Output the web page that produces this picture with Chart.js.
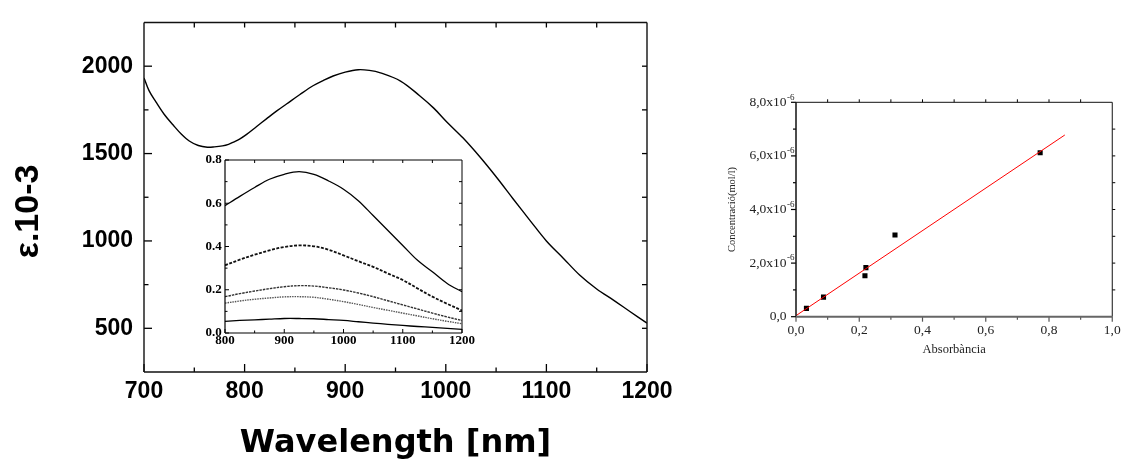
<!DOCTYPE html>
<html><head><meta charset="utf-8">
<script src="https://cdn.jsdelivr.net/npm/chart.js@4.4.0/dist/chart.umd.min.js"></script>
<style>
html,body{margin:0;padding:0;background:#fff;width:1128px;height:460px;overflow:hidden;}
canvas{position:absolute;}
#main{left:0;top:0;}
#inset{left:190px;top:150px;}
#cal{left:700px;top:80px;}
</style></head><body>
<canvas id="main" width="700" height="460"></canvas>
<canvas id="inset" width="290" height="200"></canvas>
<canvas id="cal" width="428" height="300"></canvas>
<script>
// ---------- main spectrum ----------
const mainWl  = [700,705,712,720,729,737,745,754,763,770,778,784,789,795,802,812,822,832,842,855,868,878,888,900,913,924,935,955,974,988,1001,1017,1034,1051,1067,1084,1100,1117,1133,1150,1167,1183,1200];
const mainEps = [1933,1860,1794,1725,1663,1612,1572,1546,1536,1538,1544,1553,1566,1583,1610,1655,1700,1744,1785,1838,1888,1918,1944,1966,1980,1976,1962,1915,1831,1760,1681,1590,1480,1360,1240,1115,1000,900,805,725,660,596,530];
const mainXTicks = [700,800,900,1000,1100,1200];
const mainYTicks = [500,1000,1500,2000];

// ---------- inset (absorbance spectra) ----------
const insetWl = [800,825,850,875,900,925,950,975,1000,1025,1050,1075,1100,1125,1150,1175,1200];
const insetA1 = [.589,.632,.673,.711,.734,.746,.734,.703,.665,.612,.543,.474,.405,.336,.283,.229,.191];
const insetA2 = [.313,.339,.362,.382,.398,.405,.401,.385,.359,.332,.306,.275,.245,.206,.168,.135,.104];
const insetA3 = [.168,.182,.194,.205,.214,.219,.217,.209,.199,.185,.168,.149,.130,.111,.092,.074,.058];
const insetA4 = [.138,.148,.156,.162,.167,.168,.165,.156,.145,.132,.118,.105,.092,.079,.066,.054,.043];
const insetA5 = [.054,.058,.061,.064,.067,.067,.066,.062,.058,.052,.046,.040,.035,.030,.026,.021,.017];
const insetXTicks = [800,900,1000,1100,1200];
const insetYTicks = [0,0.2,0.4,0.6,0.8];

// ---------- calibration ----------
const absorb = [0.033,0.087,0.218,0.221,0.313,0.772];
const conc   = [0.31e-6,0.73e-6,1.53e-6,1.83e-6,3.05e-6,6.12e-6];
const fitX = [0,0.85];
const fitY = [0.04e-6,6.78e-6];
const calXTicks = [0,0.2,0.4,0.6,0.8,1.0];
const calYTicks = [0,2e-6,4e-6,6e-6,8e-6];

function framePlugin(spec){
  return {
    id:'frame',
    beforeDraw(chart){
      if(!spec.fill) return;
      const a=chart.chartArea, ctx=chart.ctx;
      ctx.save(); ctx.fillStyle=spec.fill;
      ctx.fillRect(a.left,a.top,a.right-a.left,a.bottom-a.top); ctx.restore();
    },
    afterDraw(chart){
      const ctx=chart.ctx, a=chart.chartArea, xs=chart.scales.x, ys=chart.scales.y;
      ctx.save();
      (spec.ticks||[]).forEach(t=>{
        ctx.strokeStyle=t.color||'#000'; ctx.lineWidth=t.width||1;
        t.values.forEach(v=>{
          ctx.beginPath();
          if(t.side==='bottom'||t.side==='top'){
            const px=xs.getPixelForValue(v);
            const b=t.side==='bottom'?a.bottom:a.top;
            const s=(t.side==='bottom'?-1:1)*t.dir;
            ctx.moveTo(px,b); ctx.lineTo(px,b+s*t.len);
          } else {
            const py=ys.getPixelForValue(v);
            const b=t.side==='left'?a.left:a.right;
            const s=(t.side==='left'?1:-1)*t.dir;
            ctx.moveTo(b,py); ctx.lineTo(b+s*t.len,py);
          }
          ctx.stroke();
        });
      });
      (spec.edges||[]).forEach(e=>{
        ctx.strokeStyle=e.color; ctx.lineWidth=e.width; ctx.beginPath();
        if(e.side==='left'){ctx.moveTo(a.left,a.top);ctx.lineTo(a.left,a.bottom);}
        if(e.side==='right'){ctx.moveTo(a.right,a.top);ctx.lineTo(a.right,a.bottom);}
        if(e.side==='top'){ctx.moveTo(a.left,a.top);ctx.lineTo(a.right,a.top);}
        if(e.side==='bottom'){ctx.moveTo(a.left,a.bottom);ctx.lineTo(a.right,a.bottom);}
        ctx.stroke();
      });
      if(spec.after) spec.after(chart);
      ctx.restore();
    }
  };
}

const base = {responsive:false, animation:false, events:[], plugins:{legend:{display:false},tooltip:{enabled:false}}};

// ----- main chart -----
const sansB = n => ({family:'"Liberation Sans", Arial, sans-serif', weight:'bold', size:n, lineHeight:1});
new Chart(document.getElementById('main'),{
  type:'line',
  data:{datasets:[{data:mainWl.map((x,i)=>({x,y:mainEps[i]})),borderColor:'#000',borderWidth:1.4,pointRadius:0,tension:0.35,fill:false}]},
  options:Object.assign({},base,{
    layout:{padding:{top:15,right:53,left:0,bottom:0}},
    scales:{
      x:{type:'linear',min:700,max:1200,
        afterBuildTicks:s=>{s.ticks=mainXTicks.map(v=>({value:v}));},
        afterFit:s=>{s.height=88;},
        grid:{display:false,drawTicks:false},border:{display:false},
        ticks:{font:sansB(23),color:'#000',padding:8,maxRotation:0,autoSkip:false,callback:v=>String(v)},
        title:{display:true,text:'Wavelength [nm]',color:'#000',padding:{top:0,bottom:0},
          font:{family:'"DejaVu Sans", sans-serif',weight:'bold',size:32,lineHeight:1}}},
      y:{type:'linear',min:250,max:2250,
        afterBuildTicks:s=>{s.ticks=mainYTicks.map(v=>({value:v}));},
        afterFit:s=>{s.width=144;},
        grid:{display:false,drawTicks:false},border:{display:false},
        ticks:{font:sansB(23),color:'#000',padding:11,autoSkip:false,callback:v=>String(v)},
        title:{display:true,text:'ε.10-3\u00a0\u00a0\u00a0',color:'#000',padding:{top:8,bottom:0},
          font:{family:'"Liberation Sans", Arial, sans-serif',weight:'bold',size:34,lineHeight:1.2}}}
    }
  }),
  plugins:[framePlugin({
    ticks:[
      {side:'bottom',dir:1,len:8,width:1.3,values:mainXTicks},
      {side:'bottom',dir:1,len:4.5,width:1.3,values:[750,850,950,1050,1150]},
      {side:'top',dir:1,len:5,width:1.3,values:[750,800,850,900,950,1000,1050,1100,1150]},
      {side:'left',dir:1,len:8,width:1.3,values:mainYTicks},
      {side:'left',dir:1,len:4.5,width:1.3,values:[750,1250,1750]},
      {side:'right',dir:1,len:5,width:1.3,values:[500,750,1000,1250,1500,1750,2000]}
    ],
    edges:[{side:'left',color:'#111',width:1.4},{side:'right',color:'#111',width:1.4},{side:'top',color:'#111',width:1.4},{side:'bottom',color:'#111',width:1.4}]
  })]
});

// ----- inset chart -----
const serifB = {family:'"Liberation Serif", "Times New Roman", serif',weight:'bold',size:13,lineHeight:1};
const ds = (d,dash,w,c)=>({data:insetWl.map((x,i)=>({x,y:d[i]})),borderColor:c,borderWidth:w,borderDash:dash,pointRadius:0,tension:0.35,fill:false});
new Chart(document.getElementById('inset'),{
  type:'line',
  data:{datasets:[
    ds(insetA1,[],1.3,'#000'),
    ds(insetA2,[3,1.5],1.8,'#111'),
    ds(insetA3,[2.5,1],1.4,'#333'),
    ds(insetA4,[1.5,1],1.4,'#555'),
    ds(insetA5,[],1.3,'#000')
  ]},
  options:Object.assign({},base,{
    layout:{padding:{top:10,right:18,left:0,bottom:0}},
    scales:{
      x:{type:'linear',min:800,max:1200,
        afterBuildTicks:s=>{s.ticks=insetXTicks.map(v=>({value:v}));},
        afterFit:s=>{s.height=17;},
        grid:{display:false,drawTicks:false},border:{display:false},
        ticks:{font:serifB,color:'#000',padding:1.2,maxRotation:0,autoSkip:false,callback:v=>String(v)}},
      y:{type:'linear',min:0,max:0.8,
        afterBuildTicks:s=>{s.ticks=insetYTicks.map(v=>({value:v}));},
        afterFit:s=>{s.width=35;},
        grid:{display:false,drawTicks:false},border:{display:false},
        ticks:{font:serifB,color:'#000',padding:3.3,autoSkip:false,callback:v=>v.toFixed(1)}}
    }
  }),
  plugins:[framePlugin({
    fill:'#fff',
    ticks:[
      {side:'bottom',dir:1,len:4,values:insetXTicks},
      {side:'bottom',dir:1,len:2.5,values:[850,950,1050,1150]},
      {side:'top',dir:1,len:3,values:[850,900,950,1000,1050,1100,1150]},
      {side:'left',dir:1,len:4,values:insetYTicks},
      {side:'left',dir:1,len:2.5,values:[0.1,0.3,0.5,0.7]},
      {side:'right',dir:1,len:3,values:[0.1,0.2,0.3,0.4,0.5,0.6,0.7]}
    ],
    edges:[{side:'left',color:'#000',width:1.2},{side:'right',color:'#000',width:1},{side:'top',color:'#000',width:1},{side:'bottom',color:'#000',width:1.2}]
  })]
});

// ----- calibration chart -----
const serif = n => ({family:'"Liberation Serif", "Times New Roman", serif',size:n,lineHeight:1});
const fmtC = v => v.toFixed(1).replace('.',',');
new Chart(document.getElementById('cal'),{
  type:'scatter',
  data:{datasets:[
    {type:'line',data:fitX.map((x,i)=>({x,y:fitY[i]})),borderColor:'#ff0000',borderWidth:1,pointRadius:0,fill:false},
    {data:absorb.map((x,i)=>({x,y:conc[i]})),pointStyle:'rect',pointRadius:3.6,backgroundColor:'#000',borderColor:'#000',borderWidth:0}
  ]},
  options:Object.assign({},base,{
    layout:{padding:{top:22.3,right:8,left:0,bottom:24}},
    scales:{
      x:{type:'linear',min:0,max:1,
        afterBuildTicks:s=>{s.ticks=calXTicks.map(v=>({value:v}));},
        afterFit:s=>{s.height=39.3;},
        grid:{display:false,drawTicks:false},border:{display:false},
        ticks:{font:serif(13.5),color:'#222',padding:7.3,maxRotation:0,autoSkip:false,callback:v=>fmtC(v)},
        title:{display:true,text:'Absorbància',color:'#222',padding:{top:0,bottom:0},font:serif(12.5)}},
      y:{type:'linear',min:0,max:8e-6,
        afterBuildTicks:s=>{s.ticks=calYTicks.map(v=>({value:v}));},
        afterFit:s=>{s.width=96;},
        grid:{display:false,drawTicks:false},border:{display:false},
        ticks:{font:serif(13.5),color:'#222',padding:9.5,autoSkip:false,callback:v=>v===0?'0,0':fmtC(v*1e6)+'x10'},
        title:{display:true,text:'Concentració(mol/l)',color:'#222',padding:{top:27,bottom:0},font:serif(10.5)}}
    }
  }),
  plugins:[framePlugin({
    ticks:[
      {side:'bottom',dir:-1,len:5,width:1.2,color:'#555',values:calXTicks},
      {side:'bottom',dir:-1,len:3,width:1.2,color:'#555',values:[0.1,0.3,0.5,0.7,0.9]},
      {side:'top',dir:-1,len:3,values:[0.1,0.2,0.3,0.4,0.5,0.6,0.7,0.8,0.9]},
      {side:'left',dir:-1,len:5,width:1.2,values:calYTicks},
      {side:'left',dir:-1,len:3,width:1.2,values:[1e-6,3e-6,5e-6,7e-6]},
      {side:'right',dir:-1,len:3,values:[1e-6,2e-6,3e-6,4e-6,5e-6,6e-6,7e-6]}
    ],
    edges:[{side:'left',color:'#111',width:1.5},{side:'right',color:'#111',width:1},{side:'top',color:'#111',width:1},{side:'bottom',color:'#666',width:2}],
    after(chart){
      const ctx=chart.ctx, ys=chart.scales.y, a=chart.chartArea;
      ctx.fillStyle='#222'; ctx.font='9px "Liberation Serif", "Times New Roman", serif';
      ctx.textAlign='left'; ctx.textBaseline='middle';
      calYTicks.forEach(v=>{ if(v!==0) ctx.fillText('-6', a.left-9, ys.getPixelForValue(v)-5); });
    }
  })]
});
</script>
</body></html>
